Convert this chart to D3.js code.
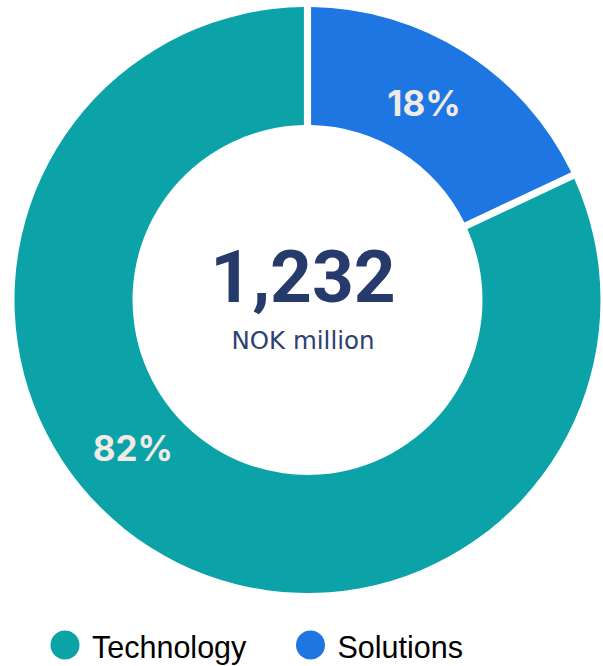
<!DOCTYPE html>
<html>
<head>
<meta charset="utf-8">
<title>Revenue split</title>
<script src="https://cdn.jsdelivr.net/npm/d3@7"></script>
<style>
  body { margin:0; background:#fff; }
  svg text { font-family: Inter, "Noto Sans", sans-serif; }
</style>
</head>
<body>
<div id="chart"></div>
<script>
// data
var segments = ["Technology", "Solutions"];
var revenue = [1010, 222];
var shares = [82, 18];
var totalLabel = "1,232";
var unitLabel = "NOK million";
var colors = ["#0ca3a8", "#1e76e3"];

var width = 603, height = 666;
var cx = 307.5, cy = 300;
var outerR = 293, innerR = 175;
// where the % labels sit (degrees clockwise from 12 o'clock), radius
var labelAngles = [229.7, 30.6], labelR = 229;

var svg = d3.select("#chart").append("svg")
    .attr("width", width).attr("height", height);

var g = svg.append("g").attr("transform", "translate(" + cx + "," + cy + ")");

var pie = d3.pie().sort(null)
    .startAngle(2 * Math.PI).endAngle(0); // Solutions first clockwise from top
var data = pie(revenue);

var arc = d3.arc()
    .innerRadius(innerR)
    .outerRadius(outerR)
    .padAngle(0.021);

g.selectAll(".slice")
    .data(data)
    .enter()
    .append("path")
    .attr("class", "slice")
    .attr("fill", function(d, i){ return colors[i]; })
    .attr("d", arc);

g.selectAll(".pct")
    .data(shares)
    .enter()
    .append("text")
    .attr("class", "pct")
    .attr("x", function(d, i){ return labelR * Math.sin(labelAngles[i] * Math.PI / 180); })
    .attr("y", function(d, i){ return -labelR * Math.cos(labelAngles[i] * Math.PI / 180); })
    .attr("text-anchor", "middle")
    .attr("dy", "0.36em")
    .attr("fill", "#f0ebe6")
    .style("font-size", "35px")
    .style("font-weight", 700)
    .text(function(d){ return d + "%"; });

g.append("text")
    .attr("x", -4.5).attr("y", 2)
    .attr("text-anchor", "middle")
    .attr("fill", "#263a6b")
    .style("font-family", "Roboto, sans-serif")
    .style("font-size", "73px")
    .style("font-weight", 700)
    .text(totalLabel);

g.append("text")
    .attr("x", -4.5).attr("y", 49)
    .attr("text-anchor", "middle")
    .attr("fill", "#2e4170")
    .style("font-family", "'DejaVu Sans', sans-serif")
    .style("font-size", "24.5px")
    .text(unitLabel);

// legend
var legendX = [65, 310.5];
var legend = svg.selectAll(".legend")
    .data(segments)
    .enter()
    .append("g")
    .attr("class", "legend")
    .attr("transform", function(d, i){ return "translate(" + legendX[i] + ",645)"; });

legend.append("circle")
    .attr("r", 14.5)
    .attr("fill", function(d, i){ return colors[i]; });

legend.append("text")
    .attr("x", 27)
    .attr("y", 13)
    .attr("fill", "#000")
    .style("font-family", "'Liberation Sans', Arial, sans-serif")
    .style("font-size", "30.5px")
    .text(function(d){ return d; });
</script>
</body>
</html>
